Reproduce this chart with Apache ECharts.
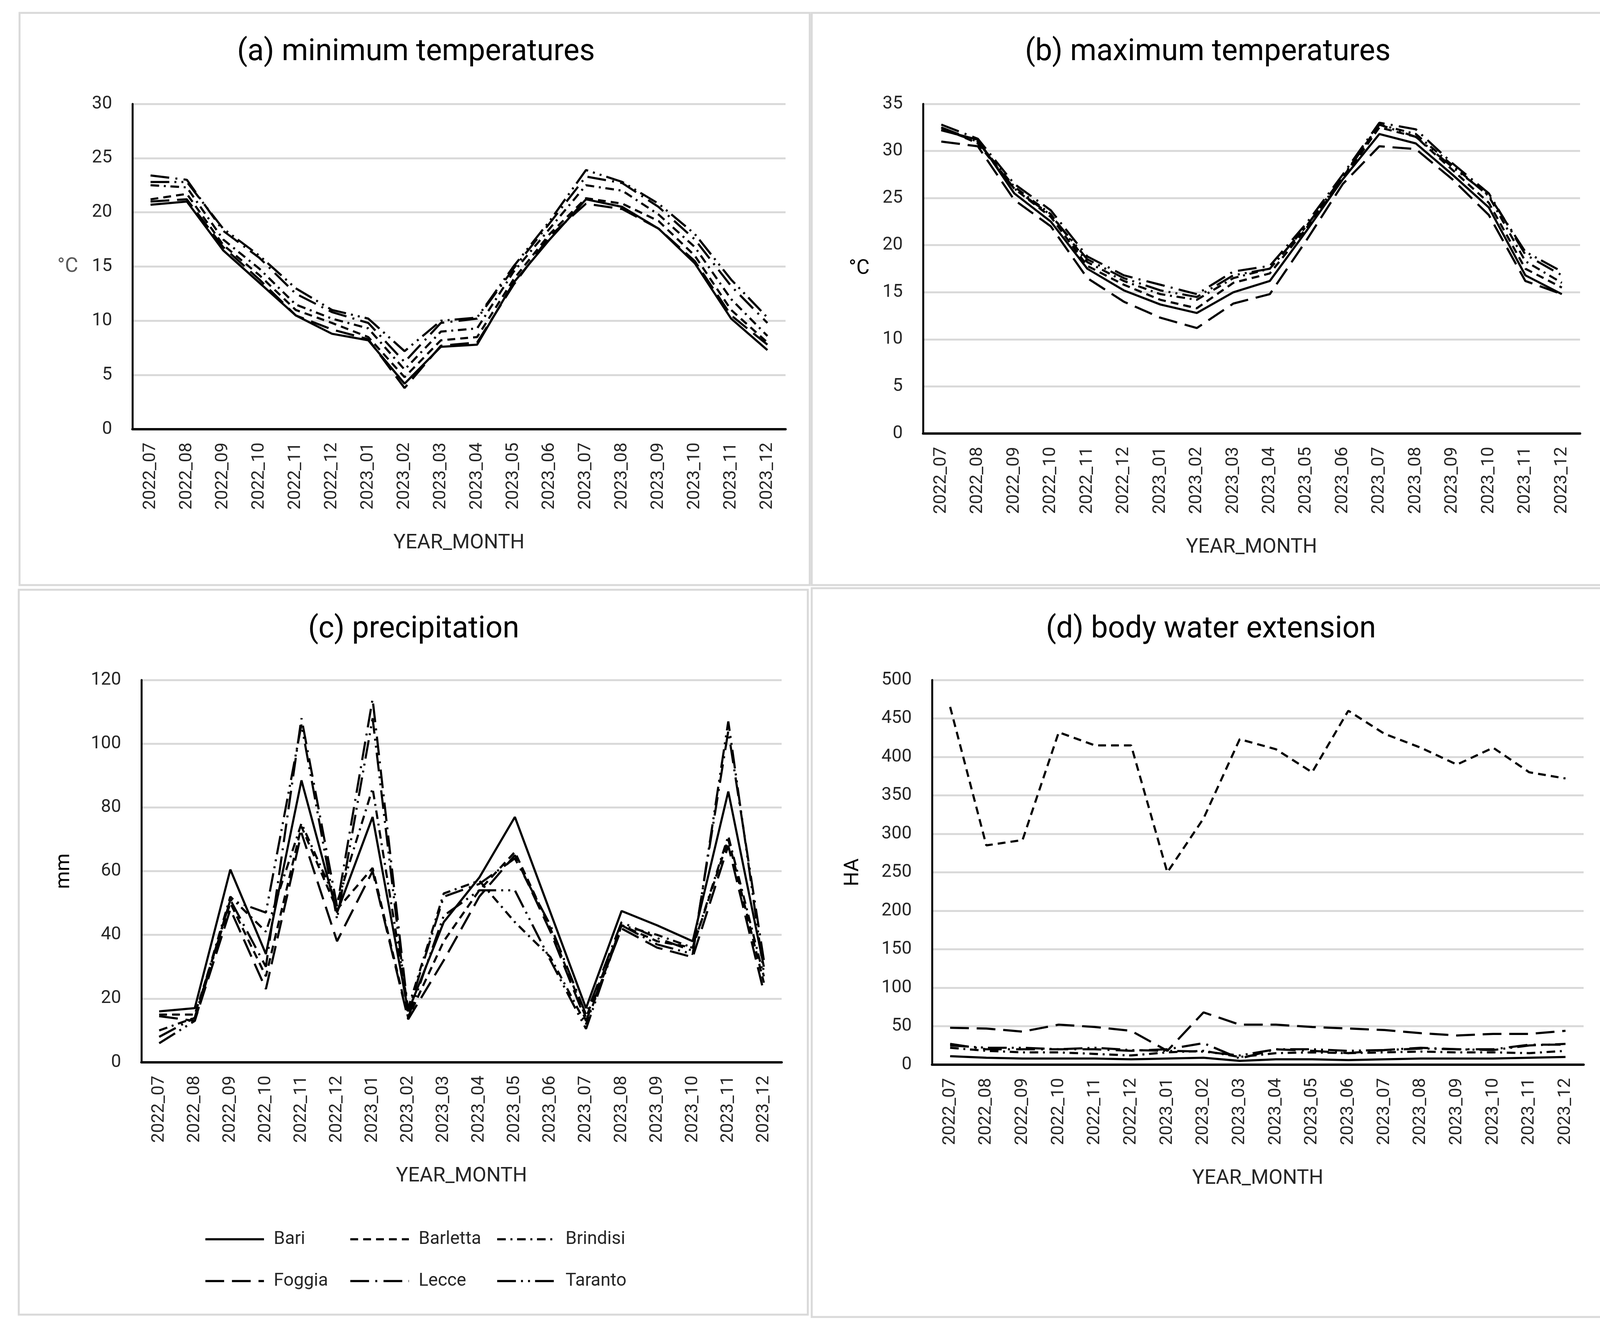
<!DOCTYPE html>
<html>
<head>
<meta charset="utf-8">
<script src="https://cdn.jsdelivr.net/npm/echarts@6/dist/echarts.min.js"></script>
<style>
  html, body { margin: 0; padding: 0; background: #fff; }
  #main { width: 4172px; height: 3413px; }
</style>
</head>
<body>
<div id="main"></div>
<script>
// months on the x axis (same for all four panels)
const months = ['2022_07', '2022_08', '2022_09', '2022_10', '2022_11', '2022_12',
  '2023_01', '2023_02', '2023_03', '2023_04', '2023_05', '2023_06',
  '2023_07', '2023_08', '2023_09', '2023_10', '2023_11', '2023_12'];

const cities = ['Bari', 'Barletta', 'Brindisi', 'Foggia', 'Lecce', 'Taranto'];

// (a) minimum temperatures, °C — one row per city, same order as cities
const minTemp = [
  [20.7, 21.0, 16.5, 13.5, 10.5, 8.8, 8.2, 4.2, 7.6, 7.8, 13.5, 17.5, 21.2, 20.5, 18.5, 15.3, 10.2, 7.3],
  [21.2, 21.7, 17.0, 14.2, 11.0, 9.8, 8.5, 4.8, 8.2, 8.5, 13.8, 18.0, 21.3, 20.8, 19.2, 16.0, 11.0, 8.0],
  [22.5, 22.3, 17.5, 14.8, 11.5, 10.2, 9.3, 5.5, 9.0, 9.3, 14.5, 18.5, 22.5, 22.0, 19.8, 16.8, 12.0, 8.6],
  [21.0, 21.2, 16.8, 13.8, 10.5, 9.2, 8.3, 3.8, 7.7, 8.0, 13.3, 17.8, 20.8, 20.3, 18.5, 15.5, 10.5, 7.8],
  [23.4, 23.0, 18.3, 15.8, 12.5, 10.8, 9.8, 6.2, 9.8, 10.2, 14.8, 19.0, 23.3, 22.7, 20.5, 17.5, 13.2, 9.8],
  [22.8, 22.8, 18.5, 16.0, 13.0, 11.0, 10.2, 7.2, 10.0, 10.3, 15.0, 19.2, 23.9, 22.8, 20.8, 18.0, 13.8, 10.3]
];

// (b) maximum temperatures, °C
const maxTemp = [
  [32.2, 31.2, 25.5, 22.5, 17.5, 15.2, 13.7, 12.8, 15.0, 16.2, 21.5, 27.0, 31.8, 30.8, 27.5, 24.0, 16.8, 14.8],
  [32.5, 30.8, 26.0, 23.0, 17.8, 15.8, 14.2, 13.3, 16.0, 17.0, 21.8, 27.0, 32.5, 31.5, 28.0, 24.5, 17.5, 15.5],
  [32.3, 31.0, 26.2, 23.3, 18.2, 16.2, 14.8, 14.2, 16.5, 17.5, 22.0, 27.2, 32.8, 31.8, 28.5, 25.2, 18.3, 16.0],
  [31.0, 30.5, 24.8, 22.0, 16.5, 14.0, 12.3, 11.2, 13.8, 14.8, 20.5, 26.5, 30.5, 30.2, 27.0, 23.2, 16.2, 14.8],
  [32.8, 31.3, 26.5, 23.7, 18.8, 16.8, 15.8, 14.8, 17.2, 17.8, 22.3, 27.5, 33.0, 32.3, 28.7, 25.5, 19.0, 16.8],
  [32.5, 31.0, 26.0, 23.2, 18.5, 16.5, 15.2, 14.5, 16.8, 17.5, 22.0, 27.3, 32.8, 31.5, 28.3, 25.3, 19.3, 17.2]
];

// (c) precipitation, mm
const precip = [
  [16, 17, 60.5, 34, 88.5, 47, 77, 16, 44, 58, 77, 47, 17, 47.5, 43, 38, 85, 30],
  [15, 15, 50, 27, 74, 48, 61, 14, 38, 54, 66, 42, 14, 43, 38, 36, 70, 25],
  [10, 14, 52, 41, 75, 50, 86, 17, 53, 57, 44, 33, 12, 43, 40, 36, 71, 27],
  [14.5, 13, 48, 23, 72, 38, 60, 13.5, 32, 52, 65, 41, 13, 42, 36, 33, 68, 22],
  [8, 14, 51, 30, 108, 49, 114, 16, 52, 56, 64, 43, 15, 44, 39, 35, 104, 32],
  [6, 13, 51, 47, 106, 45, 108, 14, 46, 54, 54, 32, 10.5, 43, 37, 34, 107, 28]
];

// (d) body water extension, HA
const waterExt = [
  [11, 9, 8, 8, 8, 7, 8, 9, 5, 7, 7, 6, 7, 8, 8, 8, 9, 10],
  [465, 285, 292, 432, 415, 415, 250, 320, 423, 410, 380, 460, 430, 412, 390, 412, 380, 372],
  [22, 18, 16, 16, 14, 12, 16, 18, 10, 15, 16, 15, 16, 17, 16, 16, 15, 18],
  [48, 47, 43, 52, 49, 44, 18, 68, 52, 52, 49, 47, 45, 41, 38, 40, 40, 44],
  [27, 20, 20, 20, 20, 18, 20, 28, 8, 20, 18, 15, 19, 22, 20, 20, 26, 26],
  [25, 22, 22, 20, 22, 19, 18, 17, 12, 20, 20, 18, 19, 21, 20, 19, 25, 27]
];

const panelTitles = ['(a) minimum temperatures', '(b) maximum temperatures', '(c) precipitation', '(d) body water extension'];
const yNames = ['°C', '°C', 'mm', 'HA'];
const yMax = [30, 35, 120, 500];
const yStep = [5, 5, 20, 50];

const FONT = 'Roboto, "Noto Sans", sans-serif';

// line dash per city (solid, short dash, dash-dot, long dash, long dash-dot, long dash-dot-dot)
const dashes = ['solid', [20, 13], [22, 12, 5, 12], [48, 20], [48, 16, 5, 16], [48, 13, 5, 13, 5, 13]];

const panelData = [minTemp, maxTemp, precip, waterExt];

// layout of the four panels
const grids = [
  { left: 339, top: 266, width: 1672, height: 833 },
  { left: 2363, top: 266, width: 1682, height: 844 },
  { left: 362, top: 1741, width: 1639, height: 979 },
  { left: 2386, top: 1741, width: 1668, height: 985 }
];
const frames = [
  [50, 33, 2023, 1465],
  [2078, 33, 2036, 1465],
  [48, 1510, 2020, 1856],
  [2078, 1506, 2045, 1866]
];
const titlePos = [[1065, 96], [3092, 96], [1059, 1574], [3100, 1574]];
const yNameGap = [139, 137, 172, 176];
const yNameColor = ['#595959', '#000', '#000', '#000'];

const chart = echarts.init(document.getElementById('main'), null, { renderer: 'canvas' });

const series = [];
panelData.forEach((rows, p) => {
  rows.forEach((vals, i) => {
    series.push({
      type: 'line',
      name: cities[i],
      xAxisIndex: p,
      yAxisIndex: p,
      data: vals,
      symbol: 'none',
      z: 10 - i,
      itemStyle: { color: '#000' },
      lineStyle: { color: '#000', width: 5.5, type: dashes[i], cap: 'butt' },
    });
  });
});

// legend: two rows of three, each item placed on its own
const legendPos = [[523, 3150], [894, 3150], [1270, 3150], [523, 3257], [894, 3257], [1270, 3257]];
const legends = cities.map((c, i) => ({
  data: [c],
  left: legendPos[i][0],
  top: legendPos[i][1],
  padding: 0,
  itemWidth: 150,
  itemHeight: 56,
  selectedMode: false,
  itemStyle: { opacity: 0 },
  lineStyle: { width: 5.5 },
  textStyle: { fontFamily: FONT, fontSize: 46, color: '#262626', padding: [0, 0, 0, 20] },
}));

const option = {
  backgroundColor: '#fff',
  animation: false,
  title: panelTitles.map((t, p) => ({
    text: t,
    left: titlePos[p][0],
    top: titlePos[p][1],
    textAlign: 'center',
    padding: 0,
    textStyle: { fontFamily: FONT, fontSize: 77, fontWeight: 'normal', color: '#000' },
  })),
  legend: legends,
  graphic: frames.map((f) => ({
    type: 'rect',
    shape: { x: f[0], y: f[1], width: f[2], height: f[3] },
    style: { fill: 'none', stroke: '#d9d9d9', lineWidth: 5 },
    silent: true,
  })),
  grid: grids,
  xAxis: grids.map((g, p) => ({
    type: 'category',
    gridIndex: p,
    data: months,
    boundaryGap: true,
    name: 'YEAR_MONTH',
    nameLocation: 'middle',
    nameGap: 266,
    nameTextStyle: { fontFamily: FONT, fontSize: 52, color: '#262626' },
    axisLine: { lineStyle: { color: '#000', width: 6 } },
    axisTick: { show: false },
    axisLabel: { rotate: 90, margin: 34, fontFamily: FONT, fontSize: 45, color: '#262626', interval: 0 },
  })),
  yAxis: grids.map((g, p) => ({
    type: 'value',
    gridIndex: p,
    min: 0,
    max: yMax[p],
    interval: yStep[p],
    name: yNames[p],
    nameLocation: 'middle',
    nameRotate: p < 2 ? 0 : 90,
    nameGap: yNameGap[p],
    nameTextStyle: { fontFamily: FONT, fontSize: 52, color: yNameColor[p] },
    axisLine: { show: true, lineStyle: { color: '#000', width: 5 } },
    axisTick: { show: false },
    axisLabel: { margin: 52, fontFamily: FONT, fontSize: 46, color: '#262626' },
    splitLine: { lineStyle: { color: '#d9d9d9', width: 5 } },
  })),
  series: series,
};

chart.setOption(option);
</script>
</body>
</html>
